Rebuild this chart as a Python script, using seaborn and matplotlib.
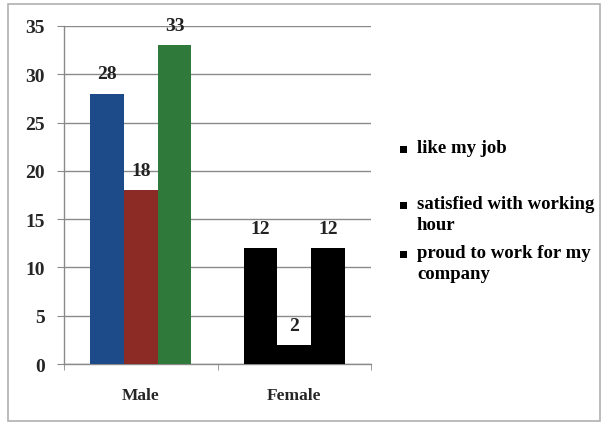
import matplotlib
matplotlib.use("Agg")
import matplotlib.pyplot as plt
import seaborn as sns
import pandas as pd
from matplotlib.patches import Rectangle

groups = ["Male", "Female"]
series = ["like my job", "satisfied with working\nhour", "proud to work for my\ncompany"]
male_values = [28, 18, 33]
female_values = [12, 2, 12]
y_ticks = [0, 5, 10, 15, 20, 25, 30, 35]

rows = []
for s, v in zip(series, male_values):
    rows.append({"group": "Male", "series": s, "value": v})
for s, v in zip(series, female_values):
    rows.append({"group": "Female", "series": s, "value": v})
df = pd.DataFrame(rows)

sns.set_style("white")
plt.rcParams["font.family"] = ["Liberation Serif", "DejaVu Serif"]
plt.rcParams["font.weight"] = "bold"

colors = ["#1d4b8a", "#8c2a26", "#2f7a3b"]

W, H = 606, 427
fig = plt.figure(figsize=(W / 100, H / 100), dpi=100)
ax = fig.add_axes([0.106, 0.145, 0.506, 0.792])

sns.barplot(data=df, x="group", y="value", hue="series", order=groups,
            hue_order=series, palette=colors, width=0.66, ax=ax,
            saturation=1, legend=False, errorbar=None, zorder=3)

# recolor female bars black as in reference
for p in ax.patches:
    cx = p.get_x() + p.get_width() / 2
    if cx > 0.5:
        p.set_facecolor("black")
    p.set_edgecolor("none")

for cont in ax.containers:
    ax.bar_label(cont, padding=8, fontsize=14, fontweight="bold", color="#222222")

ax.set_xlim(-0.5, 1.5)
ax.set_ylim(0, 35)
ax.set_yticks(y_ticks)
ax.yaxis.grid(True, color="#8a8a8a", linewidth=1.0, zorder=0)
ax.set_axisbelow(True)
ax.set_xlabel("")
ax.set_ylabel("")
for s in ["top", "right"]:
    ax.spines[s].set_visible(False)
for s in ["left", "bottom"]:
    ax.spines[s].set_color("#8a8a8a")
    ax.spines[s].set_linewidth(1.0)

ax.tick_params(axis="y", which="major", left=True, length=5, color="#8a8a8a",
               labelsize=14, pad=9)
ax.tick_params(axis="x", which="major", bottom=False, labelsize=12.5, pad=13)
ax.set_xticks([-0.5, 0.5, 1.5], minor=True)
ax.tick_params(axis="x", which="minor", bottom=True, length=4, color="#8a8a8a")
for lab in ax.get_xticklabels() + ax.get_yticklabels():
    lab.set_fontweight("bold")

# legend drawn manually to reproduce its uneven spacing
legend_first_line_px = [150, 206, 255]
for label, ypx in zip(series, legend_first_line_px):
    yf = 1 - ypx / H
    fig.patches.append(Rectangle((400 / W, yf - 3.5 / H), 7 / W, 7 / H,
                                 transform=fig.transFigure, facecolor="black",
                                 edgecolor="none"))
    fig.text(417 / W, yf + 9.5 / H, label, ha="left", va="top", fontsize=13.5,
             fontweight="bold", linespacing=1.3, color="black")

fig.patches.append(Rectangle((8 / W, 5 / H), 1 - 14 / W, 1 - 10 / H,
                             transform=fig.transFigure, fill=False,
                             edgecolor="#b0b0b0", linewidth=1.2))

fig.savefig("out.png", dpi=100)
